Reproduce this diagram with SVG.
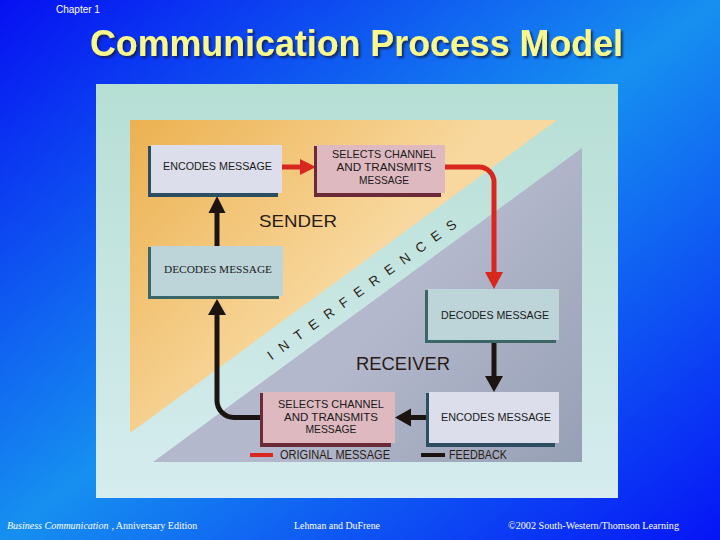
<svg xmlns="http://www.w3.org/2000/svg" width="720" height="540" viewBox="0 0 720 540">
<defs>
<linearGradient id="bg" x1="0" y1="0" x2="1" y2="1">
<stop offset="0" stop-color="#0610f2"/>
<stop offset="0.5" stop-color="#1690f0"/>
<stop offset="1" stop-color="#0614f6"/>
</linearGradient>
<linearGradient id="panel" x1="0" y1="0" x2="0" y2="1">
<stop offset="0" stop-color="#b6dfd4"/>
<stop offset="1" stop-color="#d6ecef"/>
</linearGradient>
<linearGradient id="orange" gradientUnits="userSpaceOnUse" x1="130" y1="120" x2="330" y2="300">
<stop offset="0" stop-color="#ecb150"/>
<stop offset="1" stop-color="#f8d89e"/>
</linearGradient>
<linearGradient id="grey" gradientUnits="userSpaceOnUse" x1="400" y1="300" x2="582" y2="462">
<stop offset="0" stop-color="#b4b8cc"/>
<stop offset="1" stop-color="#96a0b5"/>
</linearGradient>
<filter id="tsh" x="-5%" y="-20%" width="110%" height="150%">
<feDropShadow dx="2" dy="2" stdDeviation="0.8" flood-color="#101840" flood-opacity="0.8"/>
</filter>
</defs>
<style>
.bt{font-family:"Liberation Sans",Arial,sans-serif;font-size:11px;fill:#1a1a1a;text-anchor:middle}
.bs{font-family:"Liberation Serif","Times New Roman",serif;font-size:10.5px;fill:#1a1a1a;text-anchor:middle}
.lav{fill:#dcdeeb}.pink{fill:#dfb9c0}.blu{fill:#bdd5d9}
.shT{fill:#2b4e60}.shP{fill:#6a2a38}.shB{fill:#3a6668}
.red{stroke:#d8281e;stroke-width:5;fill:none}
.blk{stroke:#1c1410;stroke-width:5;fill:none}
.redh{fill:#d8281e}.blkh{fill:#1c1410}
.lbl{font-family:"Liberation Sans",Arial,sans-serif;fill:#2a1c14}
.ft{font-family:"Liberation Serif","Times New Roman",serif;font-size:10px;fill:#ffffff}
</style>

<rect x="0" y="0" width="720" height="540" fill="url(#bg)"/>
<text x="56" y="13" font-family="'Liberation Sans',Arial,sans-serif" font-size="10" fill="#ffffff">Chapter 1</text>
<text x="90" y="56" font-family="'Liberation Sans',Arial,sans-serif" font-size="36" font-weight="bold" fill="#f8f88c" textLength="533" lengthAdjust="spacingAndGlyphs" filter="url(#tsh)">Communication Process Model</text>

<g id="background">
<rect x="96" y="84" width="522" height="414" fill="url(#panel)"/>
<polygon points="130,120 557,120 130,433" fill="url(#orange)"/>
<polygon points="582,148 582,462 153,462" fill="url(#grey)"/>
<text class="lbl" transform="translate(365.6,286.7) rotate(-35.8)" x="0" y="4.8" font-size="13.5" letter-spacing="9.6" text-anchor="middle">INTERFERENCES</text>
<text class="lbl" x="259" y="227" font-size="17" textLength="78" lengthAdjust="spacingAndGlyphs">SENDER</text>
<text class="lbl" x="356" y="369.5" font-size="18.5" textLength="94" lengthAdjust="spacingAndGlyphs">RECEIVER</text>
</g>

<g id="connectors">
<line class="red" x1="282" y1="167" x2="302" y2="167"/>
<polygon class="redh" points="300,159 316,167 300,175"/>
<path class="red" d="M445,167 H479 A15,15 0 0 1 494,182 V274"/>
<polygon class="redh" points="485,272 494,289 503,272"/>
<line class="blk" x1="217" y1="246" x2="217" y2="211"/>
<polygon class="blkh" points="208.5,213 217,196 225.5,213"/>
<line class="blk" x1="494" y1="343" x2="494" y2="378"/>
<polygon class="blkh" points="485,376 494,392 503,376"/>
<line class="blk" x1="426" y1="417.5" x2="409" y2="417.5"/>
<polygon class="blkh" points="411,408.5 395,417.5 411,426.5"/>
<path class="blk" d="M262,417.5 H234 A17,17 0 0 1 217,400.5 V313"/>
<polygon class="blkh" points="208,315 217,299 226,315"/>
</g>

<g id="encode-sender">
<rect class="shT" x="148" y="146" width="130" height="51"/>
<rect class="lav" x="151" y="145" width="131" height="48"/>
<text class="bt" x="217.5" y="170" textLength="109" lengthAdjust="spacingAndGlyphs">ENCODES MESSAGE</text>
</g>
<g id="transmit-sender">
<rect class="shP" x="314" y="146" width="127" height="51"/>
<rect class="pink" x="317" y="145" width="128" height="48"/>
<text class="bt" x="384" y="158" textLength="104" lengthAdjust="spacingAndGlyphs">SELECTS CHANNEL</text>
<text class="bt" x="384" y="171" textLength="95" lengthAdjust="spacingAndGlyphs">AND TRANSMITS</text>
<text class="bt" x="384" y="184" textLength="50" lengthAdjust="spacingAndGlyphs">MESSAGE</text>
</g>
<g id="decode-sender">
<rect class="shB" x="148" y="247" width="131" height="52"/>
<rect class="blu" x="151" y="246" width="132" height="50"/>
<text class="bs" x="218" y="273" textLength="108" lengthAdjust="spacingAndGlyphs">DECODES MESSAGE</text>
</g>
<g id="decode-receiver">
<rect class="shB" x="425" y="290" width="131" height="53"/>
<rect class="blu" x="428" y="289" width="131" height="51"/>
<text class="bt" x="495" y="319" textLength="108" lengthAdjust="spacingAndGlyphs">DECODES MESSAGE</text>
</g>
<g id="encode-receiver">
<rect class="shT" x="426" y="393" width="129" height="54"/>
<rect class="lav" x="429" y="392" width="130" height="51"/>
<text class="bt" x="496" y="421" textLength="110" lengthAdjust="spacingAndGlyphs">ENCODES MESSAGE</text>
</g>
<g id="transmit-receiver">
<rect class="shP" x="260" y="393" width="131" height="54"/>
<rect class="pink" x="263" y="392" width="132" height="51"/>
<text class="bt" x="331" y="408" textLength="106" lengthAdjust="spacingAndGlyphs">SELECTS CHANNEL</text>
<text class="bt" x="331" y="420.5" textLength="94" lengthAdjust="spacingAndGlyphs">AND TRANSMITS</text>
<text class="bt" x="331" y="433" textLength="51" lengthAdjust="spacingAndGlyphs">MESSAGE</text>
</g>

<g id="legend">
<rect x="250" y="453" width="23" height="4" fill="#d8281e"/>
<text class="lbl" x="280" y="458.5" font-size="12" fill="#222" textLength="110" lengthAdjust="spacingAndGlyphs">ORIGINAL MESSAGE</text>
<rect x="421" y="453" width="24" height="4" fill="#1c1410"/>
<text class="lbl" x="449" y="458.5" font-size="12" textLength="58" lengthAdjust="spacingAndGlyphs">FEEDBACK</text>
</g>

<g id="footer">
<text class="ft" x="7" y="529"><tspan font-style="italic">Business Communication</tspan><tspan dx="3">, Anniversary Edition</tspan></text>
<text class="ft" x="294" y="529" textLength="86" lengthAdjust="spacingAndGlyphs">Lehman and DuFrene</text>
<text class="ft" x="508" y="529" textLength="171" lengthAdjust="spacingAndGlyphs">©2002 South-Western/Thomson Learning</text>
</g>
</svg>
